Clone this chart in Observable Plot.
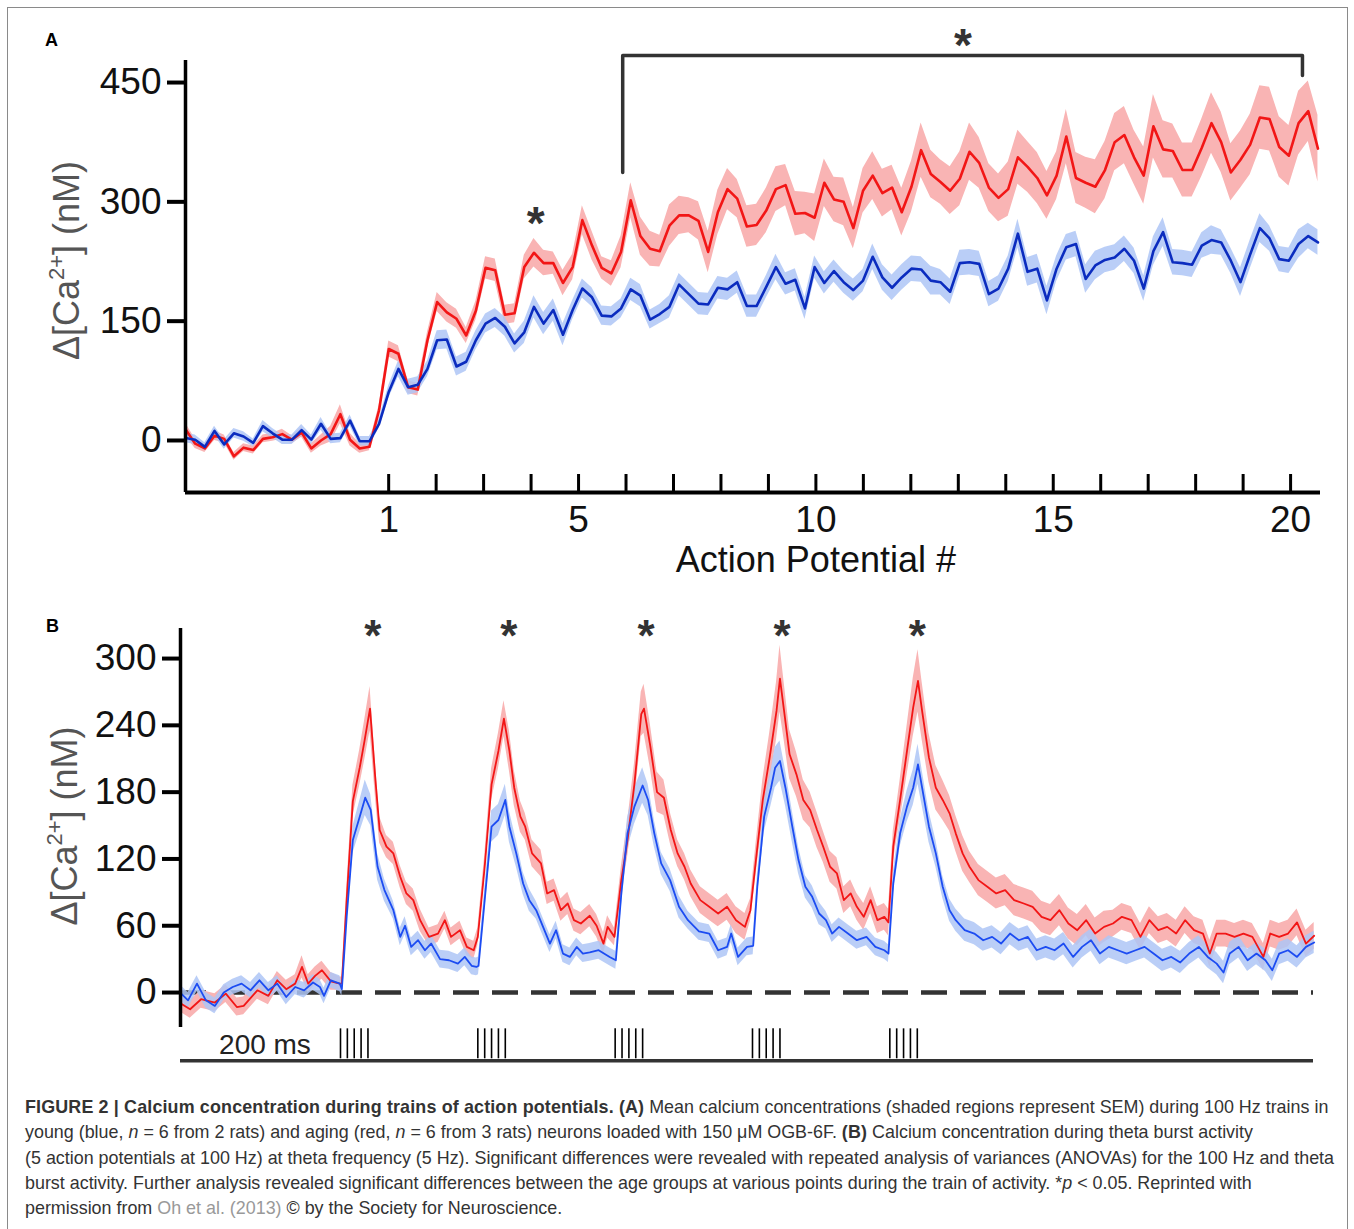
<!DOCTYPE html>
<html><head><meta charset="utf-8">
<script src="https://cdn.jsdelivr.net/npm/d3@7"></script>
<script src="https://cdn.jsdelivr.net/npm/@observablehq/plot@0.6"></script>
<style>
body{margin:0;background:#fff;}
#page{position:relative;width:1354px;height:1229px;overflow:hidden;background:#fff;font-family:"Liberation Sans",Arial,sans-serif;}
#frame{position:absolute;left:7px;top:7px;width:1339px;height:1260px;border:1px solid #8a8a8a;}
.panel{position:absolute;left:0;}
.plabel{position:absolute;font-weight:bold;font-size:18px;color:#000;font-family:"Liberation Sans",Arial,sans-serif;}
#caption{position:absolute;left:25px;top:1095px;font-size:17.9px;line-height:25.3px;color:#333;white-space:nowrap;}
#caption b{letter-spacing:0.15px;}
#caption .ref{color:#999;}
</style></head>
<body><div id="page">
<div id="frame"></div>
<div id="panelA" class="panel" style="top:0"></div>
<div id="panelB" class="panel" style="top:590px"></div>
<div class="plabel" style="left:45px;top:30px">A</div>
<div class="plabel" style="left:46px;top:616px">B</div>
<div id="caption">
<b>FIGURE 2 | Calcium concentration during trains of action potentials. (A)</b> Mean calcium concentrations (shaded regions represent SEM) during 100 Hz trains in<br>
young (blue, <i>n</i> = 6 from 2 rats) and aging (red, <i>n</i> = 6 from 3 rats) neurons loaded with 150 μM OGB-6F. <b>(B)</b> Calcium concentration during theta burst activity<br>
(5 action potentials at 100 Hz) at theta frequency (5 Hz). Significant differences were revealed with repeated analysis of variances (ANOVAs) for the 100 Hz and theta<br>
burst activity. Further analysis revealed significant differences between the age groups at various points during the train of activity. *<i>p</i> &lt; 0.05. Reprinted with<br>
permission from <span class="ref">Oh et al. (2013)</span> © by the Society for Neuroscience.
</div>
</div>
<script>
// ---------------- Panel A data (100 Hz train), sampled every ~0.204 AP interval ----------------
const aStart = -3.28;      // first sample, in action-potential units
const aStep = 0.2039;      // sampling interval, in action-potential units
const aRedMean = [
 14,-4,-10,6,2,-20,-9,-12,2,4,
 8,1,10,-10,0,8,33,1,-10,-8,
 38,115,109,67,64,126,174,161,153,132,
 163,217,214,158,160,218,236,223,223,198,
 218,277,245,217,210,237,302,257,241,238,
 270,283,283,276,237,287,316,304,269,271,
 289,316,321,285,286,280,324,303,300,267,
 314,333,311,318,287,319,365,335,325,314,
 329,363,349,318,305,316,356,344,330,308,
 333,382,330,324,319,340,375,384,356,333,
 395,366,364,340,340,368,399,375,337,353,
 372,406,404,369,358,399,414,367];
const aRedSem = [
 8,6,5,6,5,5,5,5,5,5,6,5,6,6,7,10,12,8,6,5,
 6,10,10,8,8,10,12,12,12,10,
 12,14,14,12,12,15,18,16,14,16,16,18,18,14,16,20,
 22,24,22,20,26,24,22,24,26,28,26,24,26,26,28,
 28,26,28,26,30,30,28,30,26,28,30,30,28,30,32,34,30,28,30,34,36,32,30,30,34,34,32,32,30,30,
 34,32,32,34,36,36,36,34,36,40,36,34,34,34,36,38,38,36,36,38,40,40,38,38,40,38,42];
const aBlueMean = [
 3,1,-8,12,-5,9,5,-3,18,9,
 1,1,13,1,21,2,3,25,-1,-1,
 21,61,90,67,70,90,126,127,93,99,
 126,147,154,143,122,136,168,147,164,133,
 164,191,180,157,156,166,190,182,152,159,
 168,196,184,172,171,192,190,199,169,169,
 193,218,197,202,166,218,198,213,199,189,
 201,231,205,192,205,216,215,201,199,187,
 223,224,222,184,191,216,260,212,216,176,
 216,243,247,203,220,227,230,241,226,191,
 238,262,224,223,221,245,252,249,226,199,
 234,267,254,228,226,247,257,249];
const aBlueSem = [
 6,6,5,6,6,6,6,5,7,6,6,6,7,6,8,6,6,7,6,6,
 6,8,10,10,10,10,12,12,12,12,
 12,12,12,12,12,14,14,14,14,14,12,12,12,12,12,12,
 14,14,12,12,14,14,14,14,14,14,14,14,14,14,14,
 16,14,14,14,14,14,14,14,14,14,16,16,16,16,16,16,18,16,16,16,16,16,16,16,16,18,18,18,18,16,
 16,16,18,18,16,16,16,16,16,18,18,16,16,16,16,18,16,16,18,18,18,16,16,16,18,16,16];
const aYTicks = [0, 150, 300, 450];
const aXTicks = [1,2,3,4,5,6,7,8,9,10,11,12,13,14,15,16,17,18,19,20];
const aXLabels = [1, 5, 10, 15, 20];
// significance annotations (AP #, nM)
const aStarAP = [4.1];
const aStarVal = [287];
const aBracketAP = [5.93, 5.93, 20.25, 20.25];
const aBracketVal = [337, 484, 484, 459];
const aBracketStarAP = [13.1];
const aBracketStarVal = [511];

// ---------------- Panel B data (theta bursts), time in ms ----------------
const bRedTime = [
 -232,-219,-203,-183,-167,-151,-141,-121,-105,-92,-79,-66,-56,-47,-37,-27,-14,-1,
 2,9,18,28,35,43,51,57,67,77,87,96,106,116,129,142,152,161,174,184,194,200,
 210,220,230,238,246,253,262,269,279,292,301,311,321,331,340,350,363,373,383,389,399,
 409,418,428,438,442,451,461,471,481,491,501,510,524,537,550,563,576,589,597,
 605,615,625,635,640,646,654,664,674,684,694,703,713,723,733,743,752,762,772,782,792,798,
 805,815,825,834,841,847,857,867,877,887,896,906,916,929,942,955,968,981,995,1008,
 1021,1034,1047,1060,1073,1086,1099,1112,1125,1138,1152,1165,1178,1191,1204,1217,1230,1243,1256,1266,
 1276,1289,1302,1315,1328,1344,1354,1367,1380,1393,1406,1418];
const bRedMean = [
 -10,-15,-6,-9,-1,-13,-12,2,-3,11,3,8,23,8,15,20,10,8,
 8,83,172,202,226,255,190,146,131,125,104,89,83,65,50,53,65,50,56,41,38,50,
 113,187,217,246,217,184,158,149,125,116,89,92,74,80,65,62,69,60,44,59,50,
 101,137,187,250,255,222,180,175,146,125,113,98,83,77,71,77,65,59,74,
 119,173,211,253,282,253,214,196,173,164,146,131,113,107,83,89,77,68,83,65,68,63,
 131,173,217,256,280,253,211,184,173,161,143,125,113,101,95,89,92,83,80,77,
 68,65,74,62,56,65,53,59,62,68,65,50,65,56,59,53,65,56,53,35,
 53,53,50,53,50,32,53,50,53,63,44,51];
const bRedSem = [
 8,8,8,8,8,8,8,8,8,8,8,8,10,8,8,8,8,6,
 6,10,14,16,18,20,16,12,10,10,10,10,10,10,8,8,8,8,8,8,8,8,
 10,14,16,16,18,16,14,12,12,12,10,10,10,10,10,10,10,10,10,10,8,
 12,16,18,20,22,20,18,16,14,12,12,12,12,12,12,12,12,12,10,
 14,18,22,26,30,26,22,20,18,16,16,14,14,14,12,12,12,12,12,12,12,12,
 14,18,22,26,28,26,22,20,18,16,16,16,14,14,14,14,14,14,14,14,
 14,14,14,14,14,14,14,14,12,12,12,12,12,12,12,12,12,12,12,12,
 12,12,12,12,12,12,12,12,12,12,12,12];
const bBlueTime = [
 -232,-222,-209,-196,-183,-170,-157,-144,-131,-118,-105,-92,-79,-66,-53,-40,-30,-24,-14,-1,
 2,9,18,28,36,44,54,64,77,87,94,103,113,123,132,145,158,171,181,191,198,
 201,210,220,230,240,246,256,266,275,285,295,305,314,324,334,344,353,363,376,392,
 401,409,418,428,440,448,457,467,480,493,506,522,537,550,563,569,579,592,
 601,607,617,627,633,640,648,658,667,677,687,697,707,716,726,739,752,766,779,792,798,
 805,815,825,834,841,847,857,867,877,887,896,909,923,936,949,962,975,988,1001,1014,
 1027,1040,1053,1067,1080,1093,1106,1119,1132,1145,1158,1171,1184,1197,1210,1223,1236,1250,1263,1276,
 1286,1295,1308,1321,1334,1347,1357,1367,1380,1393,1406,1418];
const bBlueMean = [
 -1,-7,8,-7,-12,0,5,8,2,11,2,8,-4,5,2,9,5,-3,11,8,
 3,68,137,158,175,164,113,92,74,50,60,41,47,38,44,30,29,26,32,24,23,
 24,83,149,155,173,149,125,98,83,74,59,44,56,35,32,41,35,36,38,32,
 29,89,143,167,186,173,143,116,101,77,65,55,53,38,41,53,32,41,
 42,95,158,184,202,208,184,149,119,95,86,71,65,53,59,53,47,50,41,38,35,
 98,143,167,184,205,184,149,125,95,74,65,56,53,47,50,44,53,47,50,38,
 41,38,44,32,41,47,35,41,38,35,38,41,35,29,32,27,35,41,32,26,
 18,35,41,29,35,29,20,35,38,32,41,45];
const bBlueSem = [
 7,7,7,7,7,7,7,7,7,7,7,7,7,7,7,7,7,7,7,7,
 6,8,12,14,16,14,12,10,8,8,8,8,8,8,8,8,8,8,8,8,8,
 8,10,14,14,14,14,12,10,10,8,8,8,8,8,8,8,8,8,8,8,
 8,12,14,16,16,14,12,10,10,10,8,8,8,8,8,8,8,8,
 8,10,14,16,18,18,16,14,12,10,10,10,8,8,8,8,8,8,8,8,8,
 10,12,14,16,18,16,14,12,10,10,10,10,10,10,10,10,10,10,10,10,
 10,10,10,10,10,10,10,10,10,10,10,10,10,10,10,10,10,10,10,10,
 10,10,10,10,10,10,10,10,10,10,10,10];
const bYTicks = [0, 60, 120, 180, 240, 300];
const bStimTimes = [0,10,20,30,40, 200,210,220,230,240, 400,410,420,430,440, 600,610,620,630,640, 800,810,820,830,840];
const bStarTime = [47, 245, 445, 643, 840];
const bStarVal = [330, 330, 330, 330, 330];

// ---------------- rendering ----------------
const FONT = '"Liberation Sans", Arial, Helvetica, sans-serif';
const YLABEL = "Δ[Ca2+] (nM)";
const RED_LINE = "#f21616", RED_BAND = "#f9b4b4";

function supLabel(svg) {
  const ns = "http://www.w3.org/2000/svg";
  svg.querySelectorAll("text").forEach(t => {
    if (t.textContent === YLABEL) {
      t.textContent = "";
      const a = document.createElementNS(ns, "tspan"); a.textContent = "Δ[Ca";
      const b = document.createElementNS(ns, "tspan"); b.textContent = "2+";
      b.setAttribute("font-size", "22"); b.setAttribute("dy", "-15");
      const c = document.createElementNS(ns, "tspan"); c.textContent = "] (nM)";
      c.setAttribute("dy", "15");
      t.append(a, b, c);
    }
  });
}

const aRows = aRedMean.map((v, i) => ({ap: aStart + i * aStep, red: v, redS: aRedSem[i], blue: aBlueMean[i], blueS: aBlueSem[i]}));
const aBracket = aBracketAP.map((x, i) => ({ap: x, v: aBracketVal[i]}));
const aStars = aStarAP.map((x, i) => ({ap: x, v: aStarVal[i]})).concat(aBracketStarAP.map((x, i) => ({ap: x, v: aBracketStarVal[i]})));
const aX0 = -3.28, aX1 = 20.63, aY0 = -65.4, aY1 = 477.7;

const plotA = Plot.plot({
  width: 1354, height: 600,
  marginLeft: 185, marginRight: 34, marginTop: 60, marginBottom: 108,
  x: {domain: [aX0, aX1], axis: null},
  y: {domain: [aY0, aY1], axis: null},
  style: {background: "transparent", fontFamily: FONT, overflow: "visible"},
  marks: [
    Plot.areaY(aRows, {x: "ap", y1: d => d.red - d.redS, y2: d => d.red + d.redS, fill: RED_BAND}),
    Plot.areaY(aRows, {x: "ap", y1: d => d.blue - d.blueS, y2: d => d.blue + d.blueS, fill: "#aec6f6", fillOpacity: 0.85}),
    Plot.lineY(aRows, {x: "ap", y: "red", stroke: RED_LINE, strokeWidth: 2.6}),
    Plot.lineY(aRows, {x: "ap", y: "blue", stroke: "#0b2cbf", strokeWidth: 2.6}),
    Plot.ruleX([aX0], {stroke: "#000", strokeWidth: 3.5}),
    Plot.ruleY([aY0], {stroke: "#000", strokeWidth: 4}),
    Plot.ruleX(aXTicks, {x: d => d, insetTop: 414, stroke: "#000", strokeWidth: 3}),
    Plot.axisY({ticks: aYTicks, tickSize: 18, tickPadding: 6, fontSize: 37, strokeWidth: 4, stroke: "#000", fill: "#111", label: null, tickFormat: d => String(d)}),
    Plot.axisX({ticks: aXLabels, tickSize: 0, tickPadding: 13, fontSize: 37, fill: "#111", label: null, tickFormat: d => String(d)}),
    Plot.text(["Action Potential #"], {text: d => d, x: 10, frameAnchor: "bottom", lineAnchor: "top", dy: 54, fontSize: 36, fill: "#111"}),
    Plot.text([YLABEL], {text: d => d, frameAnchor: "left", textAnchor: "middle", rotate: -90, dx: -118, dy: -16, fontSize: 36, fill: "#555"}),
    Plot.line(aBracket, {x: "ap", y: "v", stroke: "#333", strokeWidth: 3.5}),
    Plot.text(aStars, {x: "ap", y: "v", text: () => "*", fontSize: 46, fontWeight: "bold", fill: "#333", dy: 12})
  ]
});
supLabel(plotA);
document.getElementById("panelA").append(plotA);

const bRed = bRedTime.map((t, i) => ({t, v: bRedMean[i], s: bRedSem[i]}));
const bBlue = bBlueTime.map((t, i) => ({t, v: bBlueMean[i], s: bBlueSem[i]}));
const bStars = bStarTime.map((t, i) => ({t, v: bStarVal[i]}));
const bX0 = -233, bX1 = 1417, bY0 = -31.4, bY1 = 327;
const bStimTop = -32.6, bStimBottom = -59.5, bTimeline = -61.2;

const plotB = Plot.plot({
  width: 1354, height: 500,
  marginLeft: 180, marginRight: 41, marginTop: 38, marginBottom: 63,
  x: {domain: [bX0, bX1], axis: null},
  y: {domain: [bY0, bY1], axis: null},
  style: {background: "transparent", fontFamily: FONT, overflow: "visible"},
  marks: [
    Plot.ruleY([0], {stroke: "#333", strokeWidth: 4.5, strokeDasharray: "26,13"}),
    Plot.areaY(bRed, {x: "t", y1: d => d.v - d.s, y2: d => d.v + d.s, fill: RED_BAND}),
    Plot.areaY(bBlue, {x: "t", y1: d => d.v - d.s, y2: d => d.v + d.s, fill: "#aec6f6", fillOpacity: 0.85}),
    Plot.lineY(bRed, {x: "t", y: "v", stroke: RED_LINE, strokeWidth: 1.8}),
    Plot.lineY(bBlue, {x: "t", y: "v", stroke: "#1c4cf2", strokeWidth: 1.8}),
    Plot.ruleX([bX0], {stroke: "#000", strokeWidth: 3.5}),
    Plot.axisY({ticks: bYTicks, tickSize: 18, tickPadding: 6, fontSize: 37, strokeWidth: 4, stroke: "#000", fill: "#111", label: null, tickFormat: d => String(d)}),
    Plot.text([YLABEL], {text: d => d, frameAnchor: "left", textAnchor: "middle", rotate: -90, dx: -115, dy: -2, fontSize: 36, fill: "#555"}),
    Plot.text(bStars, {x: "t", y: "v", text: () => "*", fontSize: 44, fontWeight: "bold", fill: "#333", dy: 12}),
    Plot.ruleX(bStimTimes, {x: d => d, y1: bStimTop, y2: bStimBottom, stroke: "#000", strokeWidth: 1.6}),
    Plot.ruleY([bTimeline], {stroke: "#333", strokeWidth: 3.5}),
    Plot.text(["200 ms"], {text: d => d, x: -110, y: -47, fontSize: 28, fill: "#222"})
  ]
});
supLabel(plotB);
document.getElementById("panelB").append(plotB);
</script>
</body></html>
